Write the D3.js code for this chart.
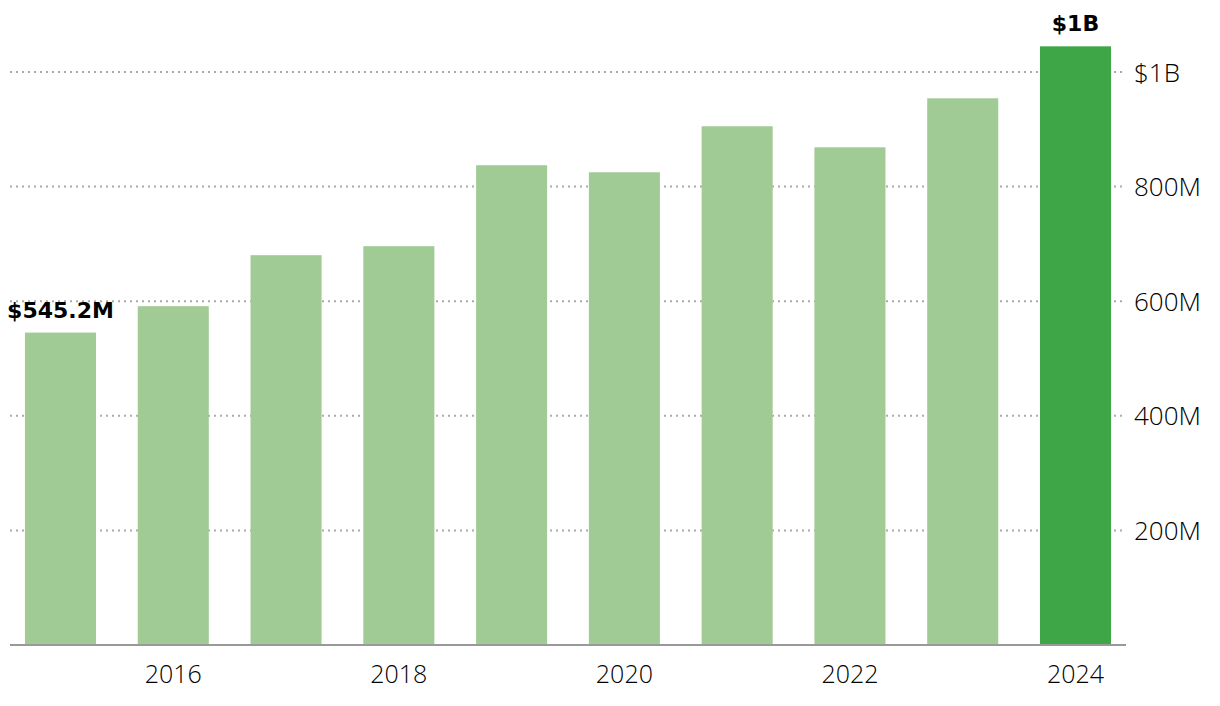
<!DOCTYPE html>
<html>
<head>
<meta charset="utf-8">
<script src="https://cdn.jsdelivr.net/npm/d3@7"></script>
<style>
  html, body { margin: 0; padding: 0; background: #fff; }
  svg { display: block; }
</style>
</head>
<body>
<svg id="chart" width="1220" height="706"></svg>
<script>
const years = [2015, 2016, 2017, 2018, 2019, 2020, 2021, 2022, 2023, 2024];
const values = [545.2, 591.3, 680.3, 696.0, 837.3, 825.0, 905.3, 868.6, 954.1, 1044.8]; // $M
const tickValues = [200, 400, 600, 800, 1000];
const tickLabels = ["200M", "400M", "600M", "800M", "$1B"];
const xLabelYears = [2016, 2018, 2020, 2022, 2024];
const annotations = [
  { year: 2015, text: "$545.2M" },
  { year: 2024, text: "$1B" }
];

const svg = d3.select("#chart");
const lightFont = "'Open Sans', Lato, sans-serif";
const boldFont = "'DejaVu Sans', sans-serif";

const x = d3.scaleBand()
  .domain(years)
  .range([4.1, 1131.9])
  .paddingInner(0.37)
  .paddingOuter(0.185);

const y = d3.scaleLinear()
  .domain([0, 1000])
  .range([645, 72]);

// gridlines
svg.append("g").selectAll("line")
  .data(tickValues)
  .join("line")
  .attr("x1", 10).attr("x2", 1126)
  .attr("y1", d => y(d)).attr("y2", d => y(d))
  .attr("stroke", "#aaa")
  .attr("stroke-width", 2)
  .attr("stroke-dasharray", "2,4");

// bars
svg.append("g").selectAll("rect")
  .data(years.map((yr, i) => ({ yr, v: values[i] })))
  .join("rect")
  .attr("x", d => x(d.yr))
  .attr("width", x.bandwidth())
  .attr("y", d => y(d.v))
  .attr("height", d => y(0) - y(d.v))
  .attr("fill", d => d.yr === 2024 ? "#3ea647" : "#a1cb94");

// baseline
svg.append("line")
  .attr("x1", 10).attr("x2", 1126)
  .attr("y1", y(0)).attr("y2", y(0))
  .attr("stroke", "#999")
  .attr("stroke-width", 2);

// y axis on right
const yAxis = d3.axisRight(y)
  .tickValues(tickValues)
  .tickSize(0)
  .tickPadding(0)
  .tickFormat((d, i) => tickLabels[i]);
const gy = svg.append("g")
  .attr("transform", "translate(1134,0)")
  .call(yAxis);
gy.select(".domain").remove();
gy.selectAll("text")
  .attr("font-family", lightFont)
  .attr("font-weight", 300)
  .attr("font-size", 26)
  .attr("fill", "#000")
  .attr("dy", "0.35em");

// x axis
const xAxis = d3.axisBottom(x)
  .tickValues(xLabelYears)
  .tickSize(0)
  .tickPadding(0);
const gx = svg.append("g")
  .attr("transform", `translate(0,${y(0)})`)
  .call(xAxis);
gx.select(".domain").remove();
gx.selectAll("text")
  .attr("font-family", lightFont)
  .attr("font-weight", 300)
  .attr("font-size", 25)
  .attr("fill", "#000")
  .attr("dy", "0")
  .attr("y", 38);

// annotations
svg.append("g").selectAll("text")
  .data(annotations)
  .join("text")
  .attr("x", d => x(d.year) + x.bandwidth() / 2)
  .attr("y", d => y(values[years.indexOf(d.year)]) - 15)
  .attr("text-anchor", "middle")
  .attr("font-family", boldFont)
  .attr("font-weight", 700)
  .attr("font-size", 22)
  .attr("fill", "#000")
  .text(d => d.text);
</script>
</body>
</html>
